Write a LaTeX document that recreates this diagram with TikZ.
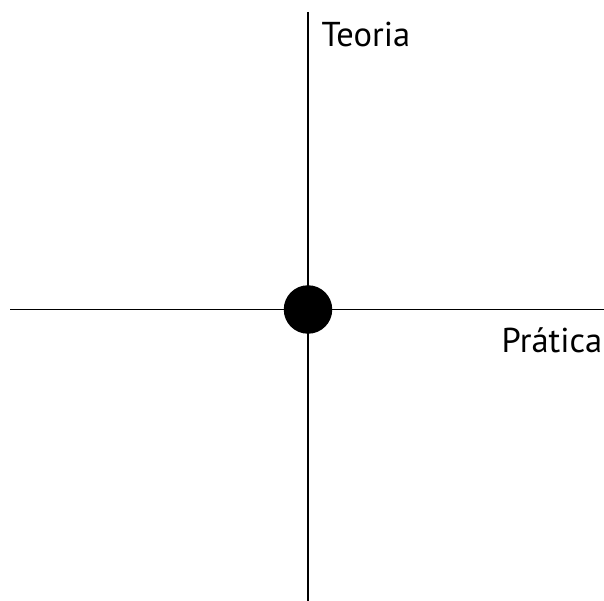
\documentclass[tikz,border=0pt]{standalone}
\usepackage{fontspec}
\setmainfont{PT Sans}
\usetikzlibrary{positioning}

\begin{document}
\begin{tikzpicture}[
            x=1pt, y=-1pt,
            axis/.style={draw=black, line width=1.8pt},
            dot/.style={circle, fill=black, minimum size=48.5pt, inner sep=0pt, outer sep=0pt},
            axislabel/.style={font=\fontsize{34.5}{38}\selectfont, inner sep=0pt, anchor=base west}
        ]
            \useasboundingbox (0,0) rectangle (604,601);

            % EIXOS
            \coordinate (top) at (308,12);
            \coordinate (bottom) at (308,601);
            \coordinate (left) at (10,309.5);
            \coordinate (right) at (604,309.5);
            \draw[axis] (top) -- (bottom);
            \draw[axis] (left) -- (right);

            % CENTRO
            \node[dot] (centro) at (308,309.5) {};

            % RÓTULOS
            \node[axislabel] (teoria) at (321.5,46.7) {Teoria};
            \node[axislabel] (pratica) at (501.5,352.7) {Prática};
        \end{tikzpicture}
\end{document}
